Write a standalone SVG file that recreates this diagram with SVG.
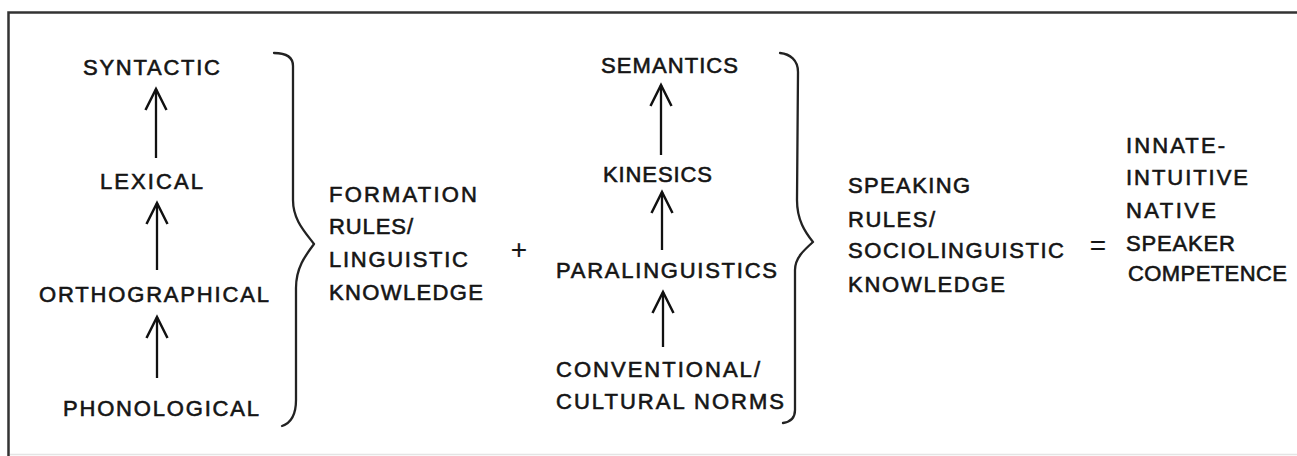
<svg xmlns="http://www.w3.org/2000/svg" width="1297" height="456" viewBox="0 0 1297 456">
<style>
text{font-family:"Liberation Sans",Arial,Helvetica,sans-serif;font-size:22px;fill:#151515;stroke:#151515;stroke-width:0.6}
.frame{stroke:#333;stroke-width:2.5;fill:none}
.brace{stroke:#222;stroke-width:2.3;fill:none;stroke-linecap:round;stroke-linejoin:round}
.arr{stroke:#111;stroke-width:2.3;fill:none;marker-end:url(#vhead)}
.op{font-size:28px;stroke-width:0.2}
</style>
<defs>
<marker id="vhead" markerUnits="userSpaceOnUse" viewBox="-24 -13 28 26" refX="0" refY="0" markerWidth="28" markerHeight="26" orient="auto" overflow="visible">
<path d="M-21,-10.5 L0,0 L-21,10.5" fill="none" stroke="#111" stroke-width="2.5" stroke-linejoin="miter"/>
</marker>
</defs>
<rect width="1297" height="456" fill="#fff"/>
<g id="frame">
<path class="frame" d="M8.5,456 L8.5,12.5 L1297,12.5"/>
<path d="M10,454.5 L1297,454.5" stroke="#e4e4e4" stroke-width="1.5"/>
</g>
<g id="n-syntactic"><text x="83" y="75" textLength="137" lengthAdjust="spacing">SYNTACTIC</text></g>
<g id="n-lexical"><text x="100" y="189" textLength="103" lengthAdjust="spacing">LEXICAL</text></g>
<g id="n-orthographical"><text x="39" y="302" textLength="230" lengthAdjust="spacing">ORTHOGRAPHICAL</text></g>
<g id="n-phonological"><text x="63" y="416" textLength="196" lengthAdjust="spacing">PHONOLOGICAL</text></g>
<g id="n-formation">
<text x="329" y="202" textLength="148" lengthAdjust="spacing">FORMATION</text>
<text x="329" y="234" textLength="84" lengthAdjust="spacing">RULES/</text>
<text x="329" y="267" textLength="139" lengthAdjust="spacing">LINGUISTIC</text>
<text x="329" y="300" textLength="154" lengthAdjust="spacing">KNOWLEDGE</text>
</g>
<g id="n-plus"><text class="op" x="519" y="259" text-anchor="middle">+</text></g>
<g id="n-semantics"><text x="601" y="73" textLength="137" lengthAdjust="spacing">SEMANTICS</text></g>
<g id="n-kinesics"><text x="603" y="182" textLength="109" lengthAdjust="spacing">KINESICS</text></g>
<g id="n-paralinguistics"><text x="556" y="278" textLength="221" lengthAdjust="spacing">PARALINGUISTICS</text></g>
<g id="n-conventional">
<text x="556" y="377" textLength="204" lengthAdjust="spacing">CONVENTIONAL/</text>
<text x="556" y="409" textLength="228" lengthAdjust="spacing">CULTURAL NORMS</text>
</g>
<g id="n-speaking">
<text x="848" y="193" textLength="122" lengthAdjust="spacing">SPEAKING</text>
<text x="848" y="227" textLength="87" lengthAdjust="spacing">RULES/</text>
<text x="848" y="258" textLength="216" lengthAdjust="spacing">SOCIOLINGUISTIC</text>
<text x="848" y="292" textLength="157" lengthAdjust="spacing">KNOWLEDGE</text>
</g>
<g id="n-equals"><text class="op" x="1098" y="255" text-anchor="middle">=</text></g>
<g id="n-competence">
<text x="1126" y="153" textLength="99" lengthAdjust="spacing">INNATE-</text>
<text x="1126" y="185" textLength="122" lengthAdjust="spacing">INTUITIVE</text>
<text x="1126" y="218" textLength="90" lengthAdjust="spacing">NATIVE</text>
<text x="1126" y="251" textLength="109" lengthAdjust="spacing">SPEAKER</text>
<text x="1128" y="281" textLength="159" lengthAdjust="spacing">COMPETENCE</text>
</g>
<g id="braces">
<path class="brace" d="M274,53 C284,53 293,56 293,66 L293,200 C293,220 305,232 314,244 C305,256 296,268 296,288 L296,400 C296,414 291,423 282,426"/>
<path class="brace" d="M780,53 C790,54 798,60 798,72 L797,200 C797,220 805,232 813,242 C804,250 795,258 795,270 L795,410 C795,418 790,422 783,423"/>
</g>
<g id="connectors">
<line class="arr" x1="156" y1="158" x2="156" y2="89"/>
<line class="arr" x1="157" y1="270" x2="157" y2="203"/>
<line class="arr" x1="157" y1="378" x2="157" y2="317"/>
<line class="arr" x1="661" y1="155" x2="661" y2="85"/>
<line class="arr" x1="662" y1="250" x2="662" y2="192"/>
<line class="arr" x1="663" y1="347" x2="663" y2="292"/>
</g>
</svg>
